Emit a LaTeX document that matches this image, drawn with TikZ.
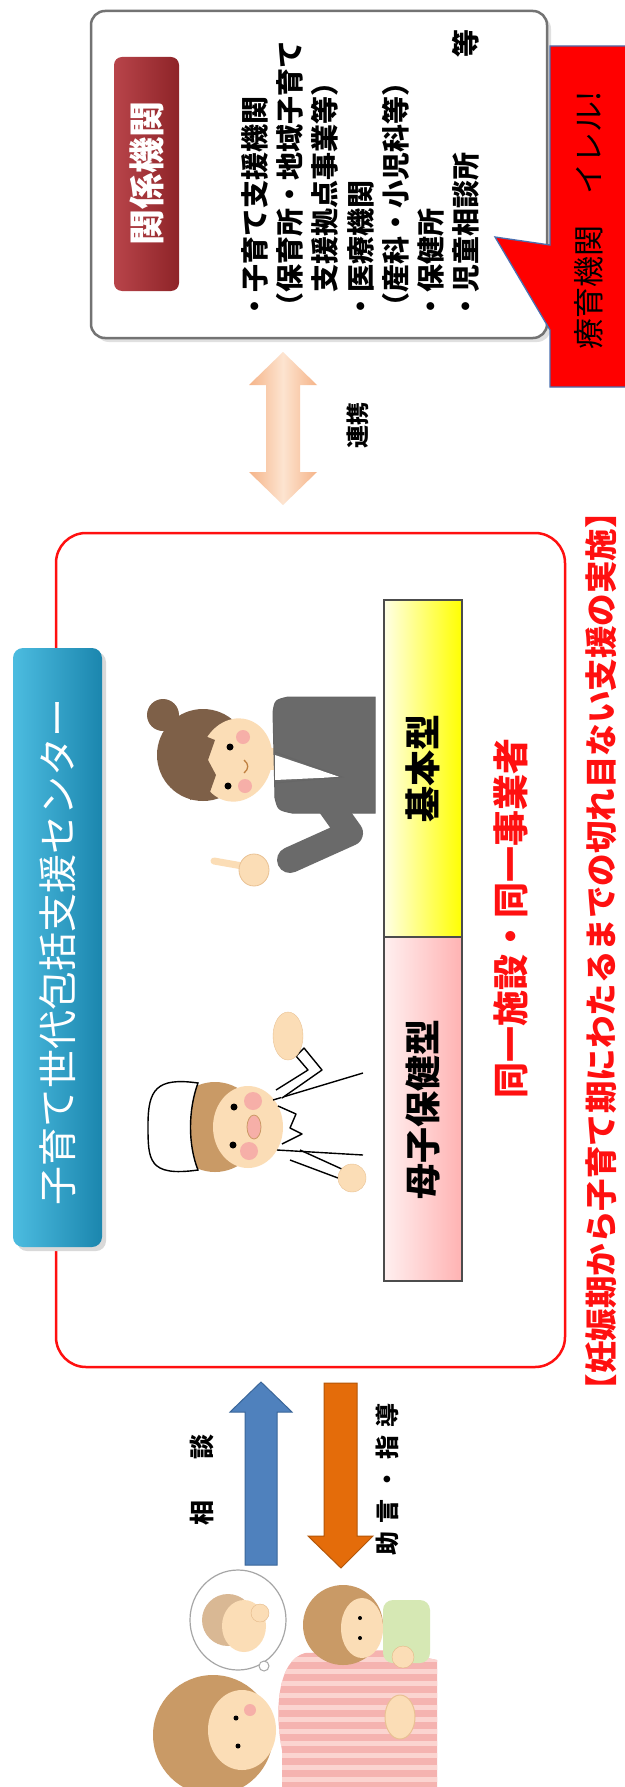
\documentclass[tikz,border=0pt]{standalone}
\usepackage{fontspec}
\setmainfont{Noto Sans CJK JP}
\newcommand\jpsize[1]{\fontsize{#1}{#1}\selectfont}

\definecolor{framered}{HTML}{FF1010}
\definecolor{tealA}{HTML}{4CBCE0}
\definecolor{tealB}{HTML}{1B86AE}
\definecolor{labelA}{HTML}{B8444A}
\definecolor{labelB}{HTML}{8E2428}
\definecolor{peach}{HTML}{F5B489}
\definecolor{peachlight}{HTML}{FDE4D0}
\definecolor{calloutblue}{HTML}{4A6FB0}
\definecolor{arrowblue}{HTML}{4F81BD}
\definecolor{arrowblueedge}{HTML}{3A6699}
\definecolor{arroworange}{HTML}{E46C0A}
\definecolor{arroworangeedge}{HTML}{B35608}
\definecolor{skin}{HTML}{FBDDB6}
\definecolor{hairlight}{HTML}{C99A66}
\definecolor{hairdark}{HTML}{7E6048}
\definecolor{suitgray}{HTML}{6A6A6A}
\definecolor{cheek}{HTML}{F6AFA8}
\definecolor{bodypink}{HTML}{F5B3B0}
\definecolor{stripe}{HTML}{FBD4D0}
\definecolor{pillow}{HTML}{D6E8B4}

\tikzset{
  vtext/.style={rotate=90, inner sep=0pt},
  listline/.style={vtext, anchor=west, font=\jpsize{28}\bfseries},
  typebox/.style={draw=black!70, line width=1.2},
  outline/.style={draw=black, line width=1.4},
}

\begin{document}
\begin{tikzpicture}[x=1pt,y=1pt]
\useasboundingbox (0,0) rectangle (624,-1787);
\fill[white] (0,0) rectangle (624,-1787);

% ---------- related organisations ----------
\fill[black!12, rounded corners=14] (95,-15) rectangle (551,-342);
\filldraw[fill=white, draw=black!55, line width=2.5, rounded corners=14] (91,-11) rectangle (547,-338);
\shade[left color=labelA, right color=labelB, rounded corners=8] (114,-57) rectangle (179,-291);
\node[vtext, font=\jpsize{36}\bfseries, text=white] (kankei) at (147,-174) {関係機関};

\node[listline] (i1) at (255,-321) {・子育て支援機関};
\node[listline] (i2) at (290,-321) {（保育所・地域子育て};
\node[listline] (i3) at (325,-321) {　支援拠点事業等）};
\node[listline] (i4) at (361,-321) {・医療機関};
\node[listline] (i5) at (396,-321) {（産科・小児科等）};
\node[listline] (i6) at (431,-321) {・保健所};
\node[listline] (i7) at (466,-321) {・児童相談所};
\node[vtext, font=\jpsize{28}\bfseries] (i8) at (466,-44) {等};

% red callout
\path[fill=red, draw=calloutblue, line width=1.3]
  (550,-46) -- (630,-46) -- (630,-387) -- (550,-387) -- (550,-330)
  -- (495,-237) -- (550,-245) -- cycle;
\node[vtext, anchor=west, font=\jpsize{31}] (ireru) at (589,-350) {療育機関　イレル!};

% cooperation double arrow
\shade[left color=peach, right color=peach, middle color=peachlight]
  (283,-352) -- (317,-385) -- (300,-385) -- (300,-472) -- (317,-472)
  -- (283,-505) -- (249,-472) -- (266,-472) -- (266,-385) -- (249,-385) -- cycle;
\node[vtext, font=\jpsize{23}\bfseries] (renkei) at (358,-425) {連携};

% ---------- centre ----------
\draw[framered, line width=2.5, rounded corners=30] (56,-533) rectangle (565,-1367);
\fill[black!15, rounded corners=10] (17,-652) rectangle (106,-1251);
\shade[left color=tealA, right color=tealB, rounded corners=10] (13,-648) rectangle (102,-1247);
\node[vtext, font=\jpsize{39}, text=white] (center) at (58,-952) {子育て世代包括支援センター};

\shadedraw[left color=yellow!10, right color=yellow, typebox] (384,-600) rectangle (462,-937);
\shadedraw[left color=red!6, right color=red!30, typebox] (384,-937) rectangle (462,-1281);
\node[vtext, font=\jpsize{36}\bfseries] (kihon) at (423,-768) {基本型};
\node[vtext, font=\jpsize{36}\bfseries] (boshi) at (423,-1109) {母子保健型};

\node[vtext, font=\jpsize{36}\bfseries, text=framered] (same) at (511,-918) {同一施設・同一事業者};
\node[vtext, font=\jpsize{32.5}\bfseries, text=framered] (seamless) at (601,-951)
  {【妊娠期から子育て期にわたるまでの切れ目ない支援の実施】};

% staff: suit woman
\begin{scope}[shift={(250,-770)}, rotate=90]
  \fill[hairdark] (55,87) circle (16);
  \fill[hairdark] (15,47) circle (46);
  \fill[skin, rotate around={-15:(10,14)}] (10,14) ellipse (42 and 36);
  \fill[hairdark] (-30,60) -- (40,60) -- (30,35) -- (10,42) -- (-5,34) -- (-22,40) -- cycle;
  \fill (23,20) circle (3.5);
  \fill (-16,22) circle (3.5);
  \fill[cheek] (33,7) circle (7);
  \fill[cheek] (-16,5) circle (7);
  \draw[brown, line width=1.3] (-3,6) .. controls (1,1) and (6,1) .. (10,6);
  \fill[skin] (0,-14) rectangle (22,-32);
  \filldraw[fill=suitgray, draw=black!60, line width=1]
    (-43,-125) -- (-43,-42) .. controls (-40,-28) .. (-28,-25) -- (58,-23)
    .. controls (70,-25) .. (73,-38) -- (73,-125) -- cycle;
  \fill[white] (15,-25) -- (-10,-25) -- (-7,-90) -- cycle;
  \draw[black!60, line width=1] (18,-25) -- (-7,-92) -- (-13,-25);
  \draw[suitgray, line width=26, line cap=round, line join=round] (-35,-80) -- (-63,-100) -- (-90,-40);
  \fill[skin] (-100,-4) ellipse (16 and 15);
  \draw[skin, line width=7, line cap=round] (-97,2) -- (-91,36);
  \draw[skin!70!brown, line width=0.8] (-100,-4) ellipse (16 and 15);
\end{scope}

% staff: nurse
\begin{scope}[shift={(260,-1120)}, rotate=90]
  \fill[hairlight] (-7,45) circle (45);
  \fill[skin] (-7,12) ellipse (41 and 35);
  \filldraw[fill=white, outline] (-50,62) .. controls (-57,112) and (-40,112) .. (-5,112)
    .. controls (30,112) and (43,104) .. (37,62) .. controls (10,72) and (-25,72) .. cycle;
  \fill (13,26) circle (3.5);
  \fill (-25,27) circle (3.5);
  \fill[cheek] (19,7) circle (9);
  \fill[cheek] (-31,11) circle (9);
  \filldraw[fill=cheek, draw=brown!80, line width=0.8] (-7,6) ellipse (12 and 7);
  \draw[outline] (20,-13) -- (47,-103);
  \draw[outline] (-30,-17) -- (-35,-103);
  \draw[outline, line join=round] (14,-18) -- (6,-36) -- (-8,-30) -- (-14,-42) -- (-24,-22);
  \filldraw[fill=white, outline, line join=round]
    (22,-22) -- (50,-62) -- (72,-44) -- (64,-36) -- (50,-48) -- (30,-16);
  \filldraw[fill=skin, draw=skin!70!brown] (84,-28) ellipse (24 and 15);
  \draw[outline] (-30,-40) -- (-50,-84);
  \draw[outline] (-40,-30) -- (-58,-78);
  \filldraw[fill=skin, draw=skin!70!brown] (-58,-92) circle (14);
\end{scope}

% ---------- family ----------
\filldraw[fill=arrowblue, draw=arrowblueedge, line width=1]
  (261,-1382) -- (292,-1412) -- (277,-1412) -- (277,-1565) -- (245,-1565)
  -- (245,-1412) -- (230,-1412) -- cycle;
\filldraw[fill=arroworange, draw=arroworangeedge, line width=1]
  (324,-1383) -- (357,-1383) -- (357,-1536) -- (373,-1536) -- (341,-1568)
  -- (308,-1536) -- (324,-1536) -- cycle;
\node[vtext, font=\jpsize{25}\bfseries] (sou) at (202,-1513) {相};
\node[vtext, font=\jpsize{25}\bfseries] (dan) at (202,-1447) {談};
\node[vtext, font=\jpsize{24}\bfseries] (jogen) at (387,-1479)
  {助\kern8pt 言\kern8pt ・\kern8pt 指\kern8pt 導};

\begin{scope}
\clip (0,0) rectangle (624,-1787);
\begin{scope}[shift={(300,-1690)}, rotate=90]
  % mother's striped top
  \begin{scope}
    \clip (37,-5) .. controls (30,22) and (-20,26) .. (-60,18) -- (-110,18)
      -- (-110,-137) -- (30,-137) -- (40,-90) -- cycle;
    \fill[bodypink] (-110,-140) rectangle (50,30);
    \foreach \sx in {-104,-92,...,40} \fill[stripe] (\sx,-140) rectangle (\sx+5,30);
  \end{scope}
  % pillow and child
  \fill[pillow, rounded corners=10] (27,-83) rectangle (90,-130);
  \fill[hairlight] (65,-43) circle (40);
  \fill[skin] (62,-62) ellipse (30 and 21);
  \fill (52,-60) circle (2);
  \fill (72,-60) circle (2);
  \filldraw[fill=skin, draw=skin!60!brown] (33,-103) circle (11);
  % mother
  \fill[hairlight] (-45,87) circle (60);
  \fill[skin] (-40,58) ellipse (40 and 34);
  \fill (-28,64) circle (2.5);
  \fill (-56,62) circle (2.5);
  \fill[cheek] (-20,50) circle (6);
  \filldraw[fill=skin, draw=skin!70!brown, line width=1] (-27,-100) ellipse (22 and 15);
  % thought bubble with baby
  \filldraw[fill=white, draw=black!35, line width=1.2] (70,62) ellipse (50 and 48);
  \filldraw[fill=white, draw=black!35, line width=1] (24,36) circle (5);
  \fill[hairlight!70] (70,72) circle (26);
  \fill[skin] (64,56) ellipse (26 and 22);
  \filldraw[fill=skin, draw=skin!60!brown] (77,40) circle (9);
\end{scope}
\end{scope}

\end{tikzpicture}
\end{document}
